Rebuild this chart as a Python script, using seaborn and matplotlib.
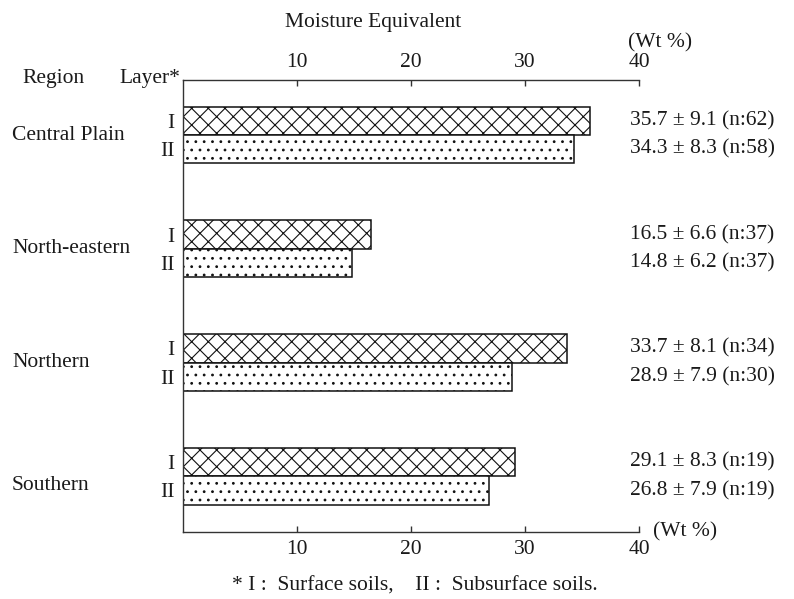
import numpy as np
import pandas as pd
import matplotlib
matplotlib.use("Agg")
import matplotlib.pyplot as plt
import matplotlib.transforms as mtransforms
import seaborn as sns

# ---- data ----
regions = ["Central Plain", "North-eastern", "Northern", "Southern"]
layers = ["I", "II"]
mean_I = [35.7, 16.5, 33.7, 29.1]
sd_I = [9.1, 6.6, 8.1, 8.3]
n_I = [62, 37, 34, 19]
mean_II = [34.3, 14.8, 28.9, 26.8]
sd_II = [8.3, 6.2, 7.9, 7.9]
n_II = [58, 37, 30, 19]
xticks = [10, 20, 30, 40]

sns.set_theme(style="white")
plt.rcParams["font.family"] = ["Liberation Serif", "DejaVu Serif"]
plt.rcParams["hatch.linewidth"] = 0.8
plt.rcParams["hatch.color"] = "#111111"

df = pd.DataFrame({
    "Region": regions * 2,
    "Layer": ["I"] * len(regions) + ["II"] * len(regions),
    "Value": mean_I + mean_II,
    "SD": sd_I + sd_II,
    "N": n_I + n_II,
})

W, H = 794, 599
fig = plt.figure(figsize=(W / 100, H / 100), dpi=100)
ax = fig.add_axes([183 / W, 1 - 532 / H, 456 / W, 452 / H])

sns.barplot(data=df, y="Region", x="Value", hue="Layer", order=regions,
            hue_order=layers, orient="h", width=0.5, dodge=True,
            palette=["white", "white"], edgecolor="#111111", linewidth=1.1,
            legend=False, ax=ax, errorbar=None, saturation=1)

hatches = ["xx", ".."]
for cont, h in zip(ax.containers, hatches):
    for p in cont:
        p.set_hatch(h)

ax.set_xlim(0, 40)
ax.set_ylim(3.49, -0.484)
ax.set_xlabel("")
ax.set_ylabel("")

fs = 15.5
tc = "#1a1a1a"

# x axis, both top and bottom
ax.set_xticks(xticks)
ax.set_xticklabels([str(t) for t in xticks])
ax.tick_params(axis="x", which="both", top=True, bottom=True, labeltop=True,
               labelbottom=True, direction="in", length=4, width=1,
               color="#333333", labelsize=fs, labelcolor=tc)
ax.xaxis.set_tick_params(which="major", pad=6)

# y tick labels I / II at bar centres
centres = []
labels = []
for cont, lay in zip(ax.containers, layers):
    for p in cont:
        centres.append(p.get_y() + p.get_height() / 2)
        labels.append(lay)
ax.set_yticks(centres)
ax.set_yticklabels(labels)
ax.tick_params(axis="y", length=0, pad=6, labelsize=fs, labelcolor=tc)

for s in ["top", "bottom", "left"]:
    ax.spines[s].set_visible(True)
    ax.spines[s].set_color("#333333")
    ax.spines[s].set_linewidth(1.0)
ax.spines["right"].set_visible(False)

# region names
trans_y = mtransforms.blended_transform_factory(fig.transFigure, ax.transData)
offsets = [0.0, 0.0, 0.0, 0.08]
for i, r in enumerate(regions):
    fig.text(12 / W, i + offsets[i], r, transform=trans_y, ha="left",
             va="center", fontsize=fs, color=tc)

# annotations
for cont, m_list, s_list, n_list in zip(ax.containers, [mean_I, mean_II],
                                        [sd_I, sd_II], [n_I, n_II]):
    for p, m, s, n in zip(cont, m_list, s_list, n_list):
        yc = p.get_y() + p.get_height() / 2
        fig.text(630 / W, yc, f"{m:.1f} \u00b1 {s:.1f} (n:{n})",
                 transform=trans_y, ha="left", va="center", fontsize=fs,
                 color=tc)

# header texts
fig.text(285 / W, 1 - 22 / H, "Moisture Equivalent", ha="left", va="center",
         fontsize=fs, color=tc)
fig.text(628 / W, 1 - 43 / H, "(Wt %)", ha="left", va="center", fontsize=fs,
         color=tc)
fig.text(22 / W, 1 - 78 / H, "Region", ha="left", va="center", fontsize=fs,
         color=tc)
fig.text(180 / W, 1 - 78 / H, "Layer*", ha="right", va="center", fontsize=fs,
         color=tc)
fig.text(653 / W, 1 - 532 / H, "(Wt %)", ha="left", va="center", fontsize=fs,
         color=tc)
fig.text(415 / W, 1 - 586 / H,
         "* I :  Surface soils,    II :  Subsurface soils.", ha="center",
         va="center", fontsize=fs, color=tc)

fig.savefig("out.png", dpi=100, facecolor="white")
